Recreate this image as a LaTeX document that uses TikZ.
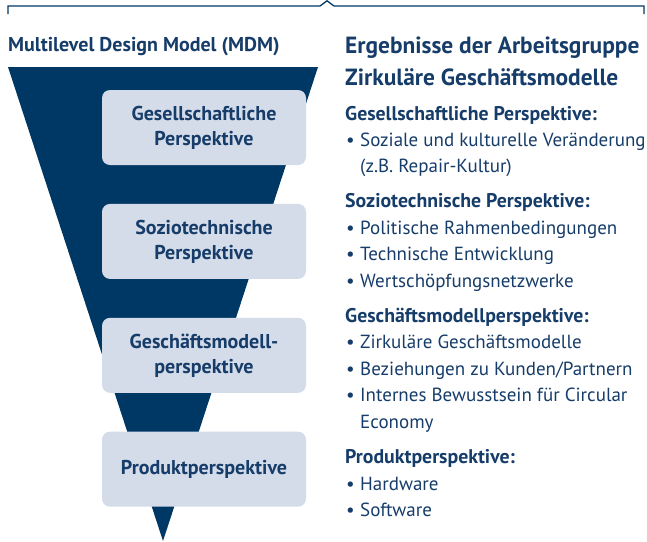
\documentclass[tikz,border=0pt]{standalone}
\usepackage{fontspec}
\setmainfont{PT Sans}
\usetikzlibrary{positioning}

\definecolor{mdmnavy}{RGB}{0,56,101}
\definecolor{mdmtext}{RGB}{22,60,105}
\definecolor{mdmbox}{RGB}{212,219,233}

\tikzset{
  level/.style={fill=mdmbox, rounded corners=8pt, minimum width=204pt,
    minimum height=75pt, inner sep=0pt, align=center, text=mdmtext,
    font=\bfseries\fontsize{20}{25}\selectfont},
  head/.style={anchor=base west, inner sep=0pt, text=mdmtext,
    font=\bfseries\fontsize{23.4}{28}\selectfont},
  sub/.style={anchor=base west, inner sep=0pt, text=mdmtext,
    font=\bfseries\fontsize{19.8}{23}\selectfont},
  item/.style={anchor=base west, inner sep=0pt, text=mdmtext,
    font=\fontsize{19}{23}\selectfont},
}
\newcommand{\itembullet}{\makebox[14pt][l]{\textbullet}}

\begin{document}
\begin{tikzpicture}[x=1pt,y=-1pt]
  \useasboundingbox (0,0) rectangle (647,541);

  % bracket over both columns
  \draw[mdmnavy, line width=1.3pt]
    (8,14) -- (8,6) -- (320,6) -- (327,0.8) -- (334,6) -- (644,6) -- (644,14);

  % left column: MDM funnel
  \node[anchor=base west, inner sep=0pt, text=mdmtext,
        font=\bfseries\fontsize{20}{24}\selectfont] (mdm) at (8,51)
        {Multilevel Design Model (MDM)};
  \fill[mdmnavy] (8,67) -- (318,67) -- (163,541) -- cycle;

  \node[level] (gesell) at (204,127.5) {Gesellschaftliche\\Perspektive};
  \node[level, below=38.5pt of gesell] (sozio) {Soziotechnische\\Perspektive};
  \node[level, below=38.5pt of sozio] (geschaeft) {Geschäftsmodell-\\perspektive};
  \node[level, below=38.5pt of geschaeft] (produkt) {Produktperspektive};

  % right column: results
  \node[head] (erg1) at (345,53) {Ergebnisse der Arbeitsgruppe};
  \node[head] (erg2) at (345,85) {Zirkuläre Geschäftsmodelle};

  \node[sub] (s1) at (345,120) {Gesellschaftliche Perspektive:};
  \node[item] (s1a) at (346,146) {\itembullet Soziale und kulturelle Veränderung};
  \node[item] (s1b) at (360,172) {(z.B. Repair-Kultur)};

  \node[sub] (s2) at (345,207) {Soziotechnische Perspektive:};
  \node[item] (s2a) at (346,234) {\itembullet Politische Rahmenbedingungen};
  \node[item] (s2b) at (346,260) {\itembullet Technische Entwicklung};
  \node[item] (s2c) at (346,287) {\itembullet Wertschöpfungsnetzwerke};

  \node[sub] (s3) at (345,322) {Geschäftsmodellperspektive:};
  \node[item] (s3a) at (346,348) {\itembullet Zirkuläre Geschäftsmodelle};
  \node[item] (s3b) at (346,375) {\itembullet Beziehungen zu Kunden/Partnern};
  \node[item] (s3c) at (346,401) {\itembullet Internes Bewusstsein für Circular};
  \node[item] (s3d) at (360,428) {Economy};

  \node[sub] (s4) at (345,463) {Produktperspektive:};
  \node[item] (s4a) at (346,490) {\itembullet Hardware};
  \node[item] (s4b) at (346,516) {\itembullet Software};
\end{tikzpicture}
\end{document}
